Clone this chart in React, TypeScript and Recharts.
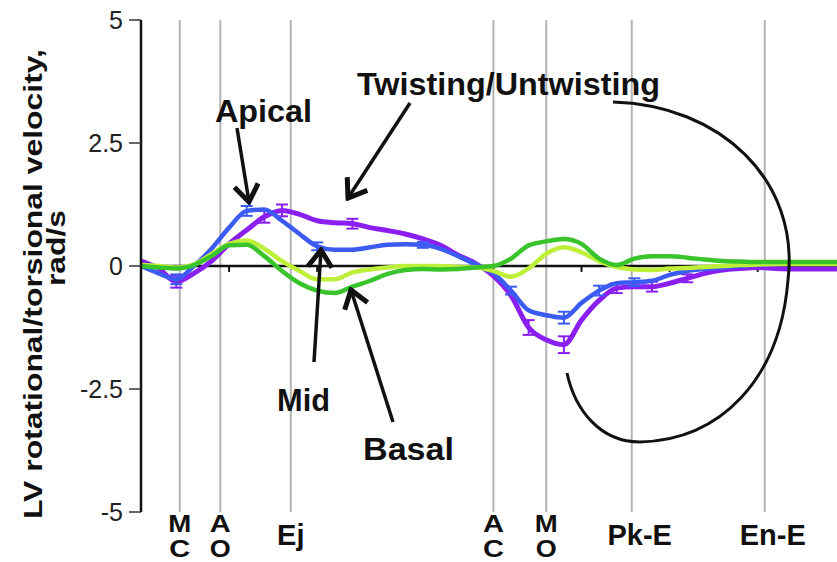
import { LineChart, Line, XAxis, YAxis, ReferenceLine, ErrorBar } from 'recharts';

// time axis in ms across one cardiac cycle
const timeMs = [
  0, 20, 40, 60, 80, 100, 120, 140, 160, 180, 200, 220, 240, 260, 280, 300, 320, 340, 360, 380,
  400, 420, 440, 460, 480, 500, 520, 540, 560, 580, 600, 620, 640, 660, 680, 700, 720, 740, 760, 780, 790,
];

const twisting = [
  0.1, -0.05, -0.32, -0.15, 0.1, 0.45, 0.73, 1.0, 1.13, 1.05, 0.92, 0.88, 0.86, 0.78, 0.72, 0.65, 0.55, 0.42, 0.22, 0.05,
  -0.2, -0.6, -1.25, -1.5, -1.6, -1.1, -0.7, -0.45, -0.42, -0.42, -0.35, -0.25, -0.15, -0.08, -0.05, -0.03, -0.05, -0.06, -0.06, -0.06, -0.06,
];
const apical = [
  0.0, -0.15, -0.27, 0.0, 0.35, 0.78, 1.12, 1.15, 0.92, 0.65, 0.4, 0.33, 0.33, 0.38, 0.43, 0.44, 0.43, 0.35, 0.2, 0.03,
  -0.15, -0.5, -0.9, -1.0, -1.05, -0.75, -0.5, -0.35, -0.33, -0.3, -0.18, -0.1, -0.06, -0.03, 0.0, 0.03, 0.05, 0.06, 0.06, 0.06, 0.06,
];
const mid = [
  0.02, 0.0, -0.03, 0.03, 0.24, 0.45, 0.52, 0.35, 0.1, -0.1, -0.27, -0.27, -0.13, -0.07, -0.03, 0.0, 0.0, 0.0, -0.02, -0.03,
  -0.1, -0.22, -0.05, 0.25, 0.38, 0.28, 0.1, -0.02, -0.07, -0.08, -0.05, -0.04, -0.02, 0.0, 0.02, 0.03, 0.04, 0.04, 0.04, 0.04, 0.04,
];
const basal = [
  0.0, -0.03, -0.05, 0.02, 0.2, 0.42, 0.43, 0.2, -0.1, -0.35, -0.5, -0.55, -0.42, -0.3, -0.16, -0.08, -0.06, -0.07, -0.06, -0.03,
  0.0, 0.15, 0.42, 0.5, 0.55, 0.45, 0.15, 0.02, 0.15, 0.2, 0.2, 0.17, 0.13, 0.1, 0.09, 0.08, 0.08, 0.08, 0.08, 0.08, 0.08,
];

// SEM shown only at a few time points
const twistingErr = [
  null, null, 0.12, null, null, null, null, 0.12, 0.12, null, null, null, 0.1, null, null, null, null, null, null, null,
  null, null, 0.15, null, 0.17, null, null, 0.1, null, 0.1, null, 0.08, null, null, null, null, null, null, null, null, null,
];
const apicalErr = [
  null, null, 0.1, null, null, null, 0.1, null, null, null, 0.08, null, null, null, null, null, 0.06, null, null, null,
  null, 0.08, null, null, 0.12, null, 0.1, null, 0.08, null, null, null, null, null, null, null, null, null, null, null, null,
];

const eventTimes = [44, 90, 170, 400, 460, 557, 708];
const eventLabels = [['M', 'C'], ['A', 'O'], ['Ej'], ['A', 'C'], ['M', 'O'], ['Pk-E'], ['En-E']];
const minorTicks = [100, 200, 300, 400, 500, 600, 700];
const yTicks = [-5, -2.5, 0, 2.5, 5];

const PURPLE = '#8B1FF0';
const BLUE = '#3B5BF2';
const LIME = '#BEF03A';
const GREEN = '#38C42A';
const FONT = '"Liberation Sans", Arial, sans-serif';

const data = timeMs.map((t, i) => ({
  t,
  twisting: twisting[i],
  apical: apical[i],
  mid: mid[i],
  basal: basal[i],
  twistingErr: twistingErr[i],
  apicalErr: apicalErr[i],
}));

function EventTick(props: any) {
  const { x, y, index } = props;
  const lines = eventLabels[index] || [];
  const shift = lines.length === 1 && lines[0].length > 2 ? 8 : 0;
  if (lines.length === 1) {
    return (
      <text x={x + shift} y={y + 33} textAnchor="middle" fontFamily={FONT} fontWeight="bold" fontSize={29} fill="#111">
        {lines[0]}
      </text>
    );
  }
  return (
    <g>
      {lines.map((s, k) => (
        <text
          key={k}
          x={x}
          y={y + 20 + k * 25}
          textAnchor="middle"
          fontFamily={FONT}
          fontWeight="bold"
          fontSize={23}
          fill="#111"
          textLength={s === 'M' ? 23 : 21}
          lengthAdjust="spacingAndGlyphs"
        >
          {s}
        </text>
      ))}
    </g>
  );
}

export default function App() {
  return (
    <div style={{ position: 'absolute', left: 0, top: 0, width: 837, height: 562, background: '#fff' }}>
      <LineChart width={837} height={562} data={data} margin={{ top: 20, right: 0, bottom: 0, left: 0 }}>
        <XAxis
          dataKey="t"
          type="number"
          domain={[0, 790]}
          ticks={eventTimes}
          interval={0}
          axisLine={false}
          tickLine={false}
          tickSize={0}
          tickMargin={0}
          height={50}
          tick={<EventTick />}
        />
        <YAxis
          domain={[-5, 5]}
          ticks={yTicks}
          width={141}
          allowDataOverflow
          axisLine={{ stroke: '#111', strokeWidth: 2.5 }}
          tickLine={{ stroke: '#333', strokeWidth: 1.5 }}
          tickSize={12}
          tickMargin={6}
          tick={{ fontSize: 25, fill: '#222', fontFamily: FONT }}
        />
        {eventTimes.map((t) => (
          <ReferenceLine key={t} x={t} stroke="#b4b4b4" strokeWidth={2} />
        ))}
        <ReferenceLine y={0} stroke="#111" strokeWidth={2.5} />
        {minorTicks.map((t) => (
          <ReferenceLine
            key={'m' + t}
            segment={[{ x: t, y: 0 }, { x: t, y: -0.12 }]}
            stroke="#111"
            strokeWidth={2}
          />
        ))}
        <Line type="monotone" dataKey="twisting" stroke={PURPLE} strokeWidth={5} dot={false} isAnimationActive={false}>
          <ErrorBar dataKey="twistingErr" width={6} strokeWidth={2} stroke={PURPLE} direction="y" isAnimationActive={false} />
        </Line>
        <Line type="monotone" dataKey="apical" stroke={BLUE} strokeWidth={4.5} dot={false} isAnimationActive={false}>
          <ErrorBar dataKey="apicalErr" width={6} strokeWidth={2} stroke={BLUE} direction="y" isAnimationActive={false} />
        </Line>
        <Line type="monotone" dataKey="mid" stroke={LIME} strokeWidth={4.5} dot={false} isAnimationActive={false} />
        <Line type="monotone" dataKey="basal" stroke={GREEN} strokeWidth={4.5} dot={false} isAnimationActive={false} />
      </LineChart>

      {/* annotations */}
      <svg width={837} height={562} style={{ position: 'absolute', left: 0, top: 0, pointerEvents: 'none' }}>
        <defs>
          <marker id="chev" viewBox="0 0 22 28" refX="19" refY="14" markerWidth="22" markerHeight="28" markerUnits="userSpaceOnUse" orient="auto">
            <path d="M2,2 L19,14 L2,26" fill="none" stroke="#111" strokeWidth={5} strokeLinejoin="miter" />
          </marker>
        </defs>
        <g transform="translate(42,284) rotate(-90)">
          <text textAnchor="middle" fontFamily={FONT} fontWeight="bold" fontSize={25} fill="#111" textLength={470} lengthAdjust="spacingAndGlyphs">
            LV rotational/torsional velocity,
          </text>
        </g>
        <g transform="translate(65,248) rotate(-90)">
          <text textAnchor="middle" fontFamily={FONT} fontWeight="bold" fontSize={25} fill="#111" textLength={76} lengthAdjust="spacingAndGlyphs">
            rad/s
          </text>
        </g>

        <g fontFamily={FONT} fontWeight="bold" fontSize={32} fill="#111">
          <text x={215} y={122} textLength={97} lengthAdjust="spacingAndGlyphs">Apical</text>
          <text x={357} y={95} textLength={303} lengthAdjust="spacingAndGlyphs">Twisting/Untwisting</text>
          <text x={277} y={411} textLength={53} lengthAdjust="spacingAndGlyphs">Mid</text>
          <text x={363} y={460} textLength={91} lengthAdjust="spacingAndGlyphs">Basal</text>
        </g>

        <g stroke="#111" strokeWidth={3.5} fill="none">
          <line x1={237} y1={128} x2={249} y2={202} markerEnd="url(#chev)" />
          <line x1={410} y1={103} x2={348} y2={198} markerEnd="url(#chev)" />
          <line x1={314} y1={362} x2={321} y2={250} markerEnd="url(#chev)" />
          <line x1={393} y1={422} x2={351} y2={290} markerEnd="url(#chev)" />
          <path d="M 613 102 C 720 105, 800 180, 788 280 C 780 380, 720 440, 640 442 C 600 442, 575 410, 567 373" strokeWidth={3} />
        </g>
      </svg>
    </div>
  );
}
